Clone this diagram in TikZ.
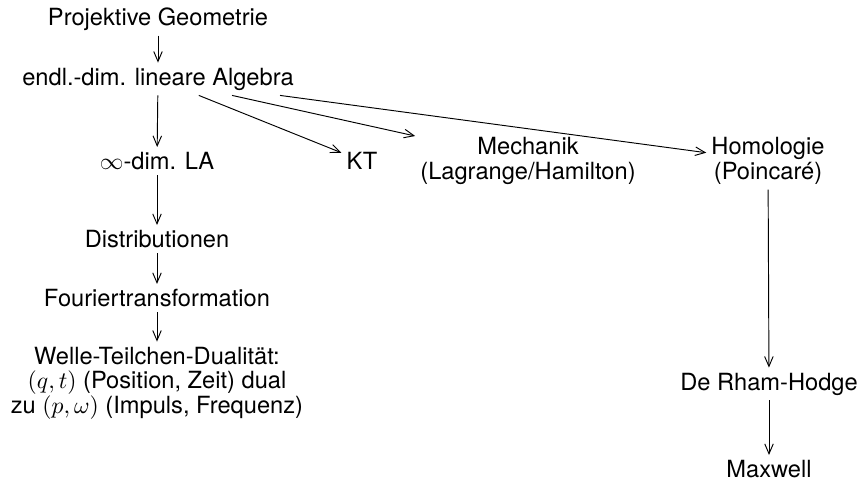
\documentclass[tikz,border=0pt]{standalone}
\usepackage{fontspec}
\setmainfont{TeX Gyre Heros}
\usetikzlibrary{arrows.meta}
\begin{document}
\begin{tikzpicture}[x=0.4227pt,y=-0.4227pt,
  every node/.style={font=\fontsize{10}{10.4}\selectfont, align=center, inner sep=2pt},
  conn/.style={-{Straight Barb[length=4.2pt,width=3.6pt,line width=0.4pt]}, line width=0.4pt}]
\useasboundingbox (0,0) rectangle (861,482);
\node (pg) at (158,19) {Projektive Geometrie};
\node (endl) at (158,79) {endl.-dim. lineare Algebra};
\node (inf) at (157,161) {$\infty$-dim. LA};
\node (kt) at (362,161) {KT};
\node (mech) at (528,161) {Mechanik\\(Lagrange/Hamilton)};
\node (hom) at (768,161) {Homologie\\(Poincaré)};
\node (dist) at (157,239) {Distributionen};
\node (four) at (157,298) {Fouriertransformation};
\node (welle) at (157,383) {Welle-Teilchen-Dualität:\\$(q,t)$ (Position, Zeit) dual\\zu $(p,\omega)$ (Impuls, Frequenz)};
\node (drh) at (769,384) {De Rham-Hodge};
\node (max) at (769,469) {Maxwell};
\draw[conn] (pg) -- (endl);
\draw[conn] (endl) -- (inf);
\draw[conn] (endl) -- (kt);
\draw[conn] (endl) -- (mech);
\draw[conn] (endl) -- (hom);
\draw[conn] (inf) -- (dist);
\draw[conn] (dist) -- (four);
\draw[conn] (four) -- (welle);
\draw[conn] (hom) -- (drh);
\draw[conn] (drh) -- (max);
\end{tikzpicture}
\end{document}
